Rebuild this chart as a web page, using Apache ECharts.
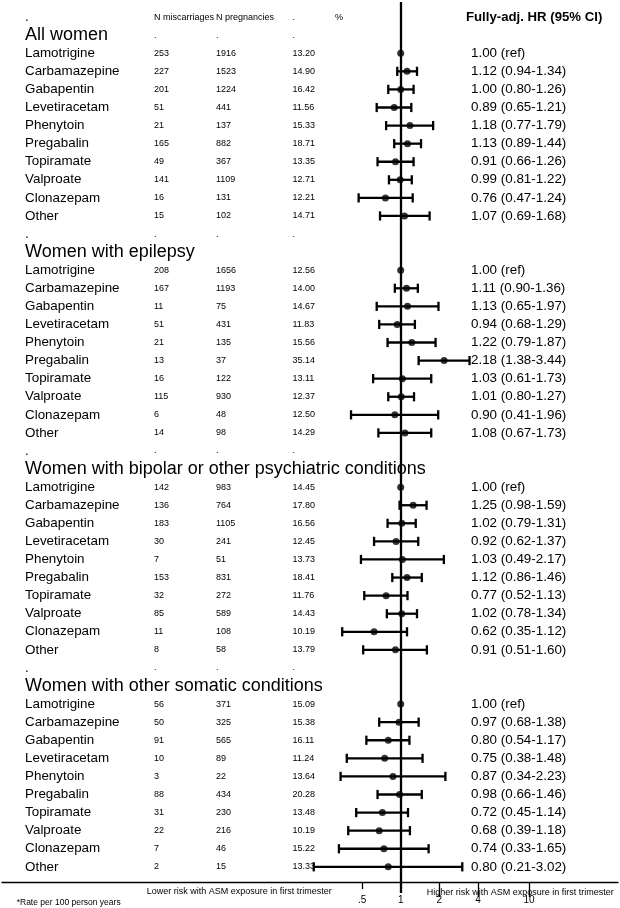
<!DOCTYPE html>
<html><head><meta charset="utf-8">
<script src="https://cdn.jsdelivr.net/npm/echarts@6/dist/echarts.min.js"></script>
<style>html,body{margin:0;padding:0;background:#fff}#c{width:620px;height:908px}</style>
</head><body><div id="c"></div>
<script>
// ---------- data ----------
const groups = ['All women', 'Women with epilepsy', 'Women with bipolar or other psychiatric conditions', 'Women with other somatic conditions'];
const drugs = ['Lamotrigine', 'Carbamazepine', 'Gabapentin', 'Levetiracetam', 'Phenytoin', 'Pregabalin', 'Topiramate', 'Valproate', 'Clonazepam', 'Other'];
const nMiscarriages = [
  [253, 227, 201, 51, 21, 165, 49, 141, 16, 15],
  [208, 167, 11, 51, 21, 13, 16, 115, 6, 14],
  [142, 136, 183, 30, 7, 153, 32, 85, 11, 8],
  [56, 50, 91, 10, 3, 88, 31, 22, 7, 2]
];
const nPregnancies = [
  [1916, 1523, 1224, 441, 137, 882, 367, 1109, 131, 102],
  [1656, 1193, 75, 431, 135, 37, 122, 930, 48, 98],
  [983, 764, 1105, 241, 51, 831, 272, 589, 108, 58],
  [371, 325, 565, 89, 22, 434, 230, 216, 46, 15]
];
const pctText = [
  ['13.20', '14.90', '16.42', '11.56', '15.33', '18.71', '13.35', '12.71', '12.21', '14.71'],
  ['12.56', '14.00', '14.67', '11.83', '15.56', '35.14', '13.11', '12.37', '12.50', '14.29'],
  ['14.45', '17.80', '16.56', '12.45', '13.73', '18.41', '11.76', '14.43', '10.19', '13.79'],
  ['15.09', '15.38', '16.11', '11.24', '13.64', '20.28', '13.48', '10.19', '15.22', '13.33']
];
const hrEst = [
  [1.00, 1.12, 1.00, 0.89, 1.18, 1.13, 0.91, 0.99, 0.76, 1.07],
  [1.00, 1.11, 1.13, 0.94, 1.22, 2.18, 1.03, 1.01, 0.90, 1.08],
  [1.00, 1.25, 1.02, 0.92, 1.03, 1.12, 0.77, 1.02, 0.62, 0.91],
  [1.00, 0.97, 0.80, 0.75, 0.87, 0.98, 0.72, 0.68, 0.74, 0.80]
];
const ciLow = [
  [null, 0.94, 0.80, 0.65, 0.77, 0.89, 0.66, 0.81, 0.47, 0.69],
  [null, 0.90, 0.65, 0.68, 0.79, 1.38, 0.61, 0.80, 0.41, 0.67],
  [null, 0.98, 0.79, 0.62, 0.49, 0.86, 0.52, 0.78, 0.35, 0.51],
  [null, 0.68, 0.54, 0.38, 0.34, 0.66, 0.45, 0.39, 0.33, 0.21]
];
const ciHigh = [
  [null, 1.34, 1.26, 1.21, 1.79, 1.44, 1.26, 1.22, 1.24, 1.68],
  [null, 1.36, 1.97, 1.29, 1.87, 3.44, 1.73, 1.27, 1.96, 1.73],
  [null, 1.59, 1.31, 1.37, 2.17, 1.46, 1.13, 1.34, 1.12, 1.60],
  [null, 1.38, 1.17, 1.48, 2.23, 1.46, 1.14, 1.18, 1.65, 3.02]
];
const headerTexts = ['.', 'N miscarriages', 'N pregnancies', '.', '%', 'Fully-adj. HR (95% CI)'];
const tickValues = [0.5, 1, 2, 4, 10];
const tickLabels = ['.5', '1', '2', '4', '10'];
const noteLower = 'Lower risk with ASM exposure in first trimester';
const noteHigher = 'Higher risk with ASM exposure in first trimester';
const noteRate = '*Rate per 100 person years';

// ---------- layout ----------
const FONT = '"Liberation Sans", Arial, Helvetica, sans-serif';
const COL = { name: 25, nMisc: 154, nPreg: 216, pct: 292.5, rate: 335, hr: 471, title: 466 };
const XMIN = 0.0007806, XMAX = 49.4;

// ---------- build rows ----------
const texts = [];
const points = [];
const cis = [];
function addText(x, row, text, font) { texts.push({ x, row, text, font }); }
const fName = '13.4px ' + FONT, fGroup = '18px ' + FONT, fSmall = '9px ' + FONT;
addText(COL.name, 0, headerTexts[0], fName);
addText(COL.nMisc, 0, headerTexts[1], fSmall);
addText(COL.nPreg, 0, headerTexts[2], fSmall);
addText(COL.pct, 0, headerTexts[3], fSmall);
addText(COL.rate, 0, headerTexts[4], fSmall);
addText(COL.title, 0, headerTexts[5], 'bold 13.2px ' + FONT);
let row = 1;
groups.forEach((g, gi) => {
  addText(COL.name, row, g, fGroup);
  if (gi === 0) {
    addText(COL.nMisc, row, '.', fSmall); addText(COL.nPreg, row, '.', fSmall); addText(COL.pct, row, '.', fSmall);
  }
  row++;
  drugs.forEach((d, di) => {
    addText(COL.name, row, d, fName);
    addText(COL.nMisc, row, String(nMiscarriages[gi][di]), fSmall);
    addText(COL.nPreg, row, String(nPregnancies[gi][di]), fSmall);
    addText(COL.pct, row, pctText[gi][di], fSmall);
    const h = hrEst[gi][di], lo = ciLow[gi][di], hi = ciHigh[gi][di];
    const hrStr = lo == null ? h.toFixed(2) + ' (ref)' : h.toFixed(2) + ' (' + lo.toFixed(2) + '-' + hi.toFixed(2) + ')';
    addText(COL.hr, row, hrStr, fName);
    points.push([h, row]);
    if (lo != null) cis.push([lo, hi, row]);
    row++;
  });
  if (gi < groups.length - 1) {
    addText(COL.name, row, '.', fName);
    addText(COL.nMisc, row, '.', fSmall); addText(COL.nPreg, row, '.', fSmall); addText(COL.pct, row, '.', fSmall);
    row++;
  }
});

const chart = echarts.init(document.getElementById('c'), null, { renderer: 'canvas' });
const logAxisBase = { type: 'log', logBase: 10, min: XMIN, max: XMAX, gridIndex: 0, position: 'bottom', splitLine: { show: false }, minorTick: { show: false } };
chart.setOption({
  animation: false,
  backgroundColor: '#fff',
  grid: { left: 2, right: 2, top: 2, bottom: 26, containLabel: false, outerBoundsMode: 'none' },
  xAxis: [
    Object.assign({}, logAxisBase, {
      axisLine: { show: true, onZero: false, lineStyle: { color: '#000', width: 1.3 } },
      axisTick: { show: true, customValues: [0.5], length: 7, lineStyle: { color: '#000', width: 1.3 } },
      axisLabel: {
        show: true, customValues: tickValues, margin: 13, fontSize: 10, color: '#000', fontFamily: FONT,
        formatter: v => { let k = 0; tickValues.forEach((t, i) => { if (Math.abs(t - v) < Math.abs(tickValues[k] - v)) k = i; }); return tickLabels[k]; }
      }
    }),
    { type: 'value', min: 2, max: 618, show: false, gridIndex: 0, position: 'top', axisLine: { onZero: false } },
    Object.assign({}, logAxisBase, {
      axisLine: { show: false, onZero: false }, axisLabel: { show: false },
      axisTick: { show: true, customValues: [2, 4, 10], length: 15, lineStyle: { color: '#000', width: 1.3 } }
    }),
    Object.assign({}, logAxisBase, {
      axisLine: { show: false, onZero: false }, axisLabel: { show: false },
      axisTick: { show: true, customValues: [1], length: 11, lineStyle: { color: '#000', width: 2.3 } }
    })
  ],
  yAxis: [{ type: 'value', inverse: true, min: -0.835, max: 47.84, show: false, gridIndex: 0, axisLine: { onZero: false } }],
  series: [
    {
      type: 'custom', xAxisIndex: 0, yAxisIndex: 0, silent: true,
      data: cis, encode: { x: [0, 1], y: 2 },
      renderItem: (params, api) => {
        const y = api.value(2);
        const a = api.coord([api.value(0), y]);
        const b = api.coord([api.value(1), y]);
        const h = 4.6, st = { stroke: '#000', lineWidth: 2.3 };
        return { type: 'group', children: [
          { type: 'line', shape: { x1: a[0], y1: a[1], x2: b[0], y2: b[1] }, style: st },
          { type: 'line', shape: { x1: a[0], y1: a[1] - h, x2: a[0], y2: a[1] + h }, style: st },
          { type: 'line', shape: { x1: b[0], y1: b[1] - h, x2: b[0], y2: b[1] + h }, style: st }
        ] };
      }
    },
    {
      type: 'scatter', xAxisIndex: 0, yAxisIndex: 0, silent: true,
      data: points, symbol: 'circle', symbolSize: 7, itemStyle: { color: '#000' },
      markLine: { silent: true, symbol: 'none', label: { show: false }, lineStyle: { color: '#000', width: 2.3, type: 'solid' }, data: [{ xAxis: 1 }] }
    },
    {
      type: 'custom', xAxisIndex: 1, yAxisIndex: 0, silent: true,
      data: texts.map(t => [t.x, t.row]), encode: { x: 0, y: 1 },
      renderItem: (params, api) => {
        const t = texts[params.dataIndex];
        const p = api.coord([api.value(0), api.value(1)]);
        return { type: 'text', x: p[0], y: p[1], style: { text: t.text, font: t.font, fill: '#000', align: 'left', verticalAlign: 'middle' } };
      }
    }
  ],
  graphic: [
    { type: 'text', x: 146.7, y: 892, style: { text: noteLower, font: '9px ' + FONT, fill: '#000', verticalAlign: 'middle' } },
    { type: 'text', x: 426.7, y: 893, style: { text: noteHigher, font: '9px ' + FONT, fill: '#000', verticalAlign: 'middle' } },
    { type: 'text', x: 16.7, y: 902.5, style: { text: noteRate, font: '8.5px ' + FONT, fill: '#000', verticalAlign: 'middle' } }
  ]
});
</script>
</body></html>
